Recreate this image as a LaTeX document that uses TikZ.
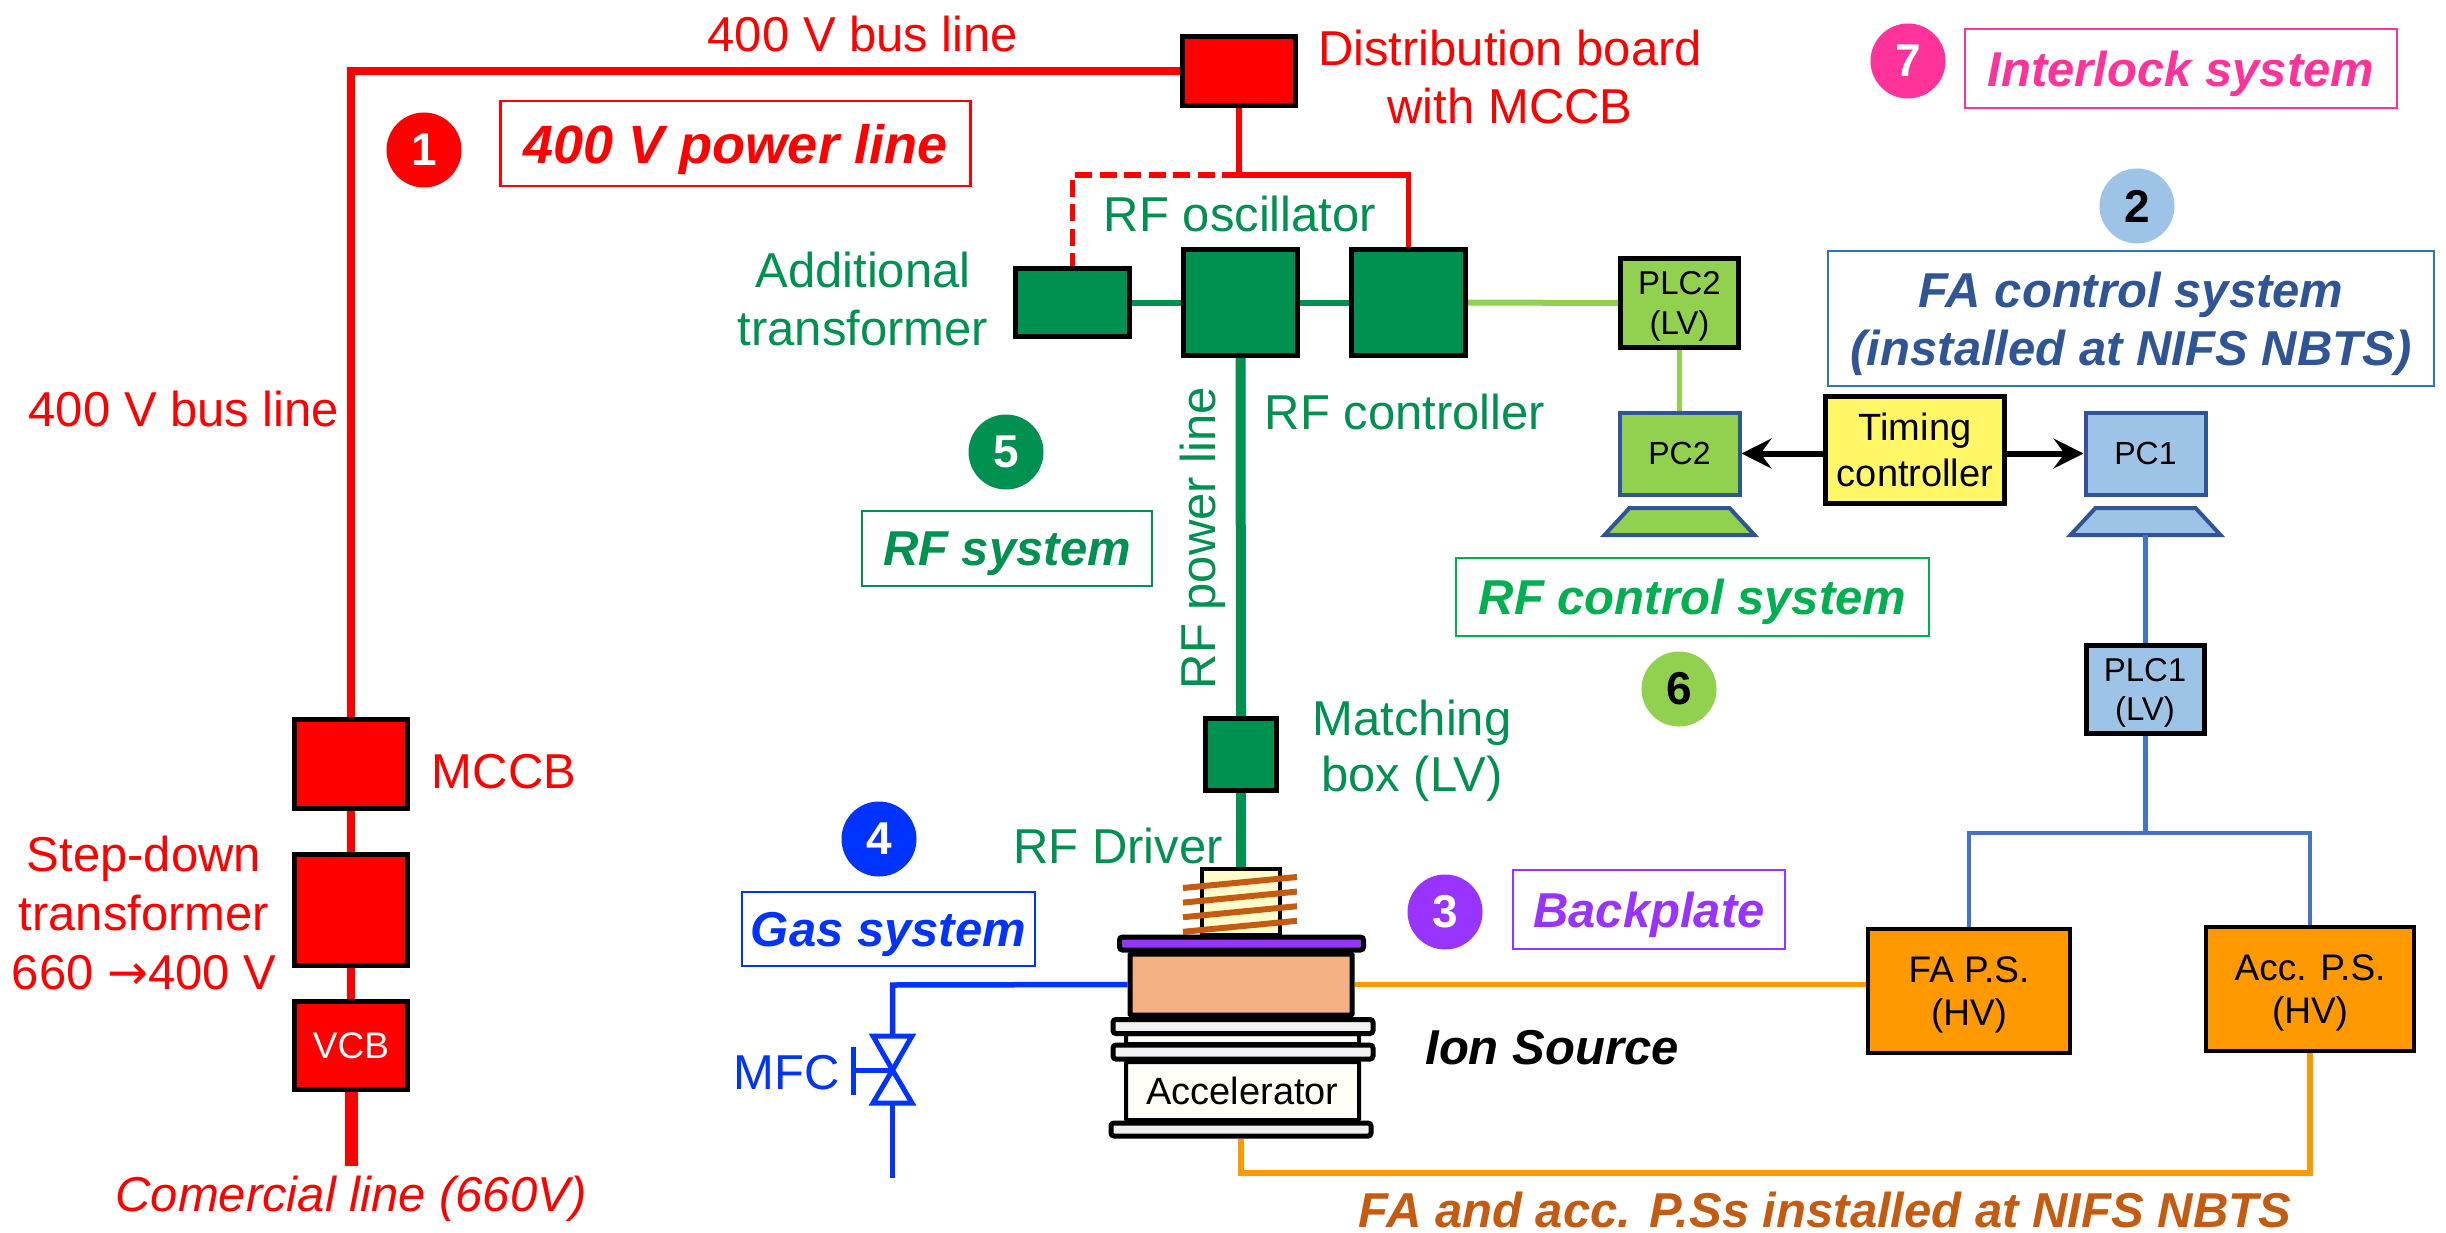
\documentclass[tikz,border=0pt]{standalone}
\usepackage{fontspec}
\setmainfont{Liberation Sans}
\newfontfamily\arrowfont{DejaVu Sans}
\usetikzlibrary{arrows.meta}
\newcommand{\nd}[1]{\raisebox{0pt}[\height][0pt]{#1}}
\definecolor{rfgreen}{HTML}{009050}
\definecolor{lgreen}{HTML}{92D050}
\definecolor{lblue}{HTML}{9DC3E6}
\definecolor{dblue}{HTML}{2F5597}
\definecolor{mblue}{HTML}{4472C4}
\definecolor{bblue}{HTML}{2E75B6}
\definecolor{gasblue}{HTML}{0033FF}
\definecolor{violet2}{HTML}{9933FF}
\definecolor{pink2}{HTML}{FF3399}
\definecolor{orange2}{HTML}{FF9900}
\definecolor{brown2}{HTML}{C55A11}
\definecolor{src}{HTML}{F4B183}
\definecolor{ctrlgreen}{HTML}{00B050}
\tikzset{
  fs/.style={font=\fontsize{#1}{1.2\dimexpr #1pt\relax}\selectfont},
  lab/.style={fs=49,align=center,inner sep=0pt},
  sys/.style={align=center,inner sep=0pt,font=\fontsize{#1}{1.14\dimexpr #1pt\relax}\selectfont\bfseries\itshape},
  blk/.style={draw=black,line width=5pt,inner sep=0pt,align=center},
  rbox/.style={blk,fill=red},
  gbox/.style={blk,fill=rfgreen},
  pcbox/.style={draw=dblue,line width=4pt,inner sep=0pt,fs=32,minimum width=120pt,minimum height=82pt},
  base/.style={draw=dblue,line width=4pt},
  sysbox/.style={line width=2.5pt,fill=white},
  num/.style={circle,minimum size=75pt,inner sep=0pt,font=\fontsize{46}{46}\selectfont\bfseries},
  part/.style={draw=black,line width=5pt,inner sep=0pt,rounded corners=1pt},
  flange/.style={part,fill=black!5,rounded corners=3pt},
}
\begin{document}
\begin{tikzpicture}[x=1pt,y=-1pt]
\useasboundingbox (0,0) rectangle (2446,1233);
% left chain
\node[rbox,minimum width=113pt,minimum height=89pt] (mccb) at (351,764) {};
\node[rbox,minimum width=113pt,minimum height=111pt] (stepdn) at (351,910) {};
\node[rbox,minimum width=113pt,minimum height=88pt,text=white,fs=37] (vcb) at (351,1045.5) {VCB};
\coordinate (comm) at (351,1166);
% distribution
\node[rbox,minimum width=113pt,minimum height=69pt] (dist) at (1239,71) {};
\node[gbox,minimum width=114pt,minimum height=68pt] (addt) at (1072.5,302.5) {};
\node[gbox,minimum width=114pt,minimum height=106pt] (osc) at (1240.5,302.5) {};
\node[gbox,minimum width=114pt,minimum height=106pt] (rctrl) at (1408.5,302.5) {};
\node[gbox,minimum width=71pt,minimum height=72pt] (match) at (1241,754.5) {};
\coordinate (jt) at (1239,175);
\node[blk,fill=lgreen,fs=33,minimum width=118pt,minimum height=88pt] (plc2) at (1679.5,303) {PLC2\\\nd{(LV)}};
\node[pcbox,fill=lgreen] (pc2) at (1679.5,453.5) {\nd{PC2}};
\draw[base,fill=lgreen] (1629.5,508) -- (1729.5,508) -- (1754.5,535) -- (1604.5,535) -- cycle;
\node[pcbox,fill=lblue] (pc1) at (2145.5,453.5) {\nd{PC1}};
\coordinate (base1) at (2145.5,535);
\draw[base,fill=lblue] (2095.5,508) -- (2195.5,508) -- (2220.5,535) -- (2070.5,535) -- cycle;
\node[blk,fill=yellow!60,fs=38,minimum width=179pt,minimum height=107pt] (timing) at (1915,450) {Timing\\\nd{controller}};
\node[blk,fill=lblue,fs=33,minimum width=118pt,minimum height=88pt] (plc1) at (2145,689.5) {PLC1\\\nd{(LV)}};
\coordinate (split) at (2145.5,833);
\node[blk,fill=orange2,fs=37,line width=4pt,minimum width=202pt,minimum height=124pt] (fa) at (1969,991) {FA P.S.\\[-1pt]\nd{(HV)}};
\node[blk,fill=orange2,fs=37,line width=4pt,minimum width=208pt,minimum height=124pt] (acc) at (2310,989) {Acc. P.S.\\[-1pt]\nd{(HV)}};
% ion source
\node[draw=black,line width=3.5pt,fill=yellow!20,inner sep=0pt,minimum width=78pt,minimum height=66pt] (drv) at (1241,902) {};
\foreach \yy in {0,14.6,29.2,43.8}
  \draw[brown2,line width=6pt] (1183,888+\yy) -- (1297,877+\yy);
\node[part,fill=violet2,rounded corners=3pt,minimum width=244pt,minimum height=13pt] (bplate) at (1241.5,943.5) {};
\node[part,fill=src,minimum width=222pt,minimum height=61pt] (srcbox) at (1241,984.5) {};
\node[part,draw=black,line width=4pt,fill=yellow!3,minimum width=233pt,minimum height=10pt] (gap) at (1242.5,1039) {};
\node[part,line width=4pt,fill=yellow!3,fs=38,minimum width=233pt,minimum height=58pt] (accel) at (1242.5,1091) {Accelerator};
\node[flange,minimum width=260pt,minimum height=14pt] (fl1) at (1243,1026.5) {};
\node[flange,minimum width=260pt,minimum height=14pt] (fl2) at (1243,1052) {};
\node[flange,minimum width=260pt,minimum height=13pt] (fl3) at (1241,1129.5) {};
\coordinate (bend) at (1241,1173);
% connectors
\draw[red,line width=8pt] (mccb.north) |- (dist.west);
\draw[red,line width=8pt] (mccb.south) -- (stepdn.north);
\draw[red,line width=8pt] (stepdn.south) -- (vcb.north);
\draw[red,line width=13pt] (vcb.south) -- (comm);
\draw[red,line width=5.5pt] (dist.south) -- (jt);
\draw[red,line width=5.5pt] (jt) -| (rctrl.north);
\draw[red,line width=5.5pt,dash pattern=on 17pt off 7.5pt] (jt) -| (addt.north);
\draw[rfgreen,line width=6pt] (addt.east) -- (osc.west);
\draw[rfgreen,line width=6pt] (osc.east) -- (rctrl.west);
\draw[rfgreen,line width=10pt] (osc.south) -- (match.north);
\draw[rfgreen,line width=10pt] (match.south) -- (drv.north);
\draw[lgreen,line width=6pt] (rctrl.east) -- (plc2.west);
\draw[lgreen,line width=5pt] (plc2.south) -- (pc2.north);
\draw[black,line width=6pt,-{Stealth[length=30pt,width=30pt,inset=11pt]}] (timing.west |- pc2.east) -- (pc2.east);
\draw[black,line width=6pt,-{Stealth[length=30pt,width=30pt,inset=11pt]}] (timing.east |- pc1.west) -- (pc1.west);
\draw[mblue,line width=4.5pt] (base1) -- (base1 |- plc1.north);
\draw[mblue,line width=4.5pt] (base1 |- plc1.south) -- (split);
\draw[mblue,line width=4.5pt] (split) -| (fa.north);
\draw[mblue,line width=4.5pt] (split) -| (acc.north);
\draw[orange2,line width=5.5pt] (srcbox.east) -- (fa.west |- srcbox.east);
\draw[orange2,line width=5.5pt] (fl3.south) -- (bend) -| (acc.south);
% gas line and valve
\coordinate (gc) at (892.5,985);
\coordinate (vt) at (892.5,1036);
\coordinate (vb) at (892.5,1103);
\coordinate (vend) at (892.5,1178);
\coordinate (vm) at (892.5,1070);
\coordinate (vh) at (853,1070);
\draw[gasblue,line width=5.5pt,line join=miter] (srcbox.west) -- (gc) -- (vt);
\draw[gasblue,line width=5pt] (vb) -- (vend);
\draw[gasblue,line width=5pt,fill=white,miter limit=10] (873,1036) -- (912,1036) -- (vm) -- cycle;
\draw[gasblue,line width=5pt,fill=white,miter limit=10] (873,1103) -- (912,1103) -- (vm) -- cycle;
\draw[gasblue,line width=5pt] (vh) -- (vm);
\draw[gasblue,line width=5pt] (853,1047) -- (853,1095);
% system boxes
\node[num,fill=red,text=white] (n1) at (424,150) {1};
\node[sysbox,draw=red,text=red,sys=54,minimum width=470pt,minimum height=85pt] (s1) at (735.5,143.5) {\nd{400 V power line}};
\node[num,fill=pink2,text=white] (n7) at (1908,61) {7};
\node[sysbox,draw=pink2,text=pink2,sys=49,minimum width=432pt,minimum height=79pt] (s7) at (2181,68.5) {\nd{Interlock system}};
\node[num,fill=lblue,text=black] (n2) at (2137,206) {2};
\node[sysbox,draw=bblue,text=dblue,sys=49,minimum width=606pt,minimum height=135pt] (s2) at (2131,318.5) {FA control system\\[2pt]\nd{(installed at NIFS NBTS)}};
\node[num,fill=rfgreen,text=white] (n5) at (1006,452) {5};
\node[sysbox,draw=rfgreen,text=rfgreen,sys=49,minimum width=290pt,minimum height=75pt] (s5) at (1007,548.5) {\nd{RF system}};
\node[sysbox,draw=ctrlgreen,text=ctrlgreen,sys=49,minimum width=473pt,minimum height=78pt] (s6) at (1692.5,597) {\nd{RF control system}};
\node[num,fill=lgreen,text=black] (n6) at (1679,689) {6};
\node[num,fill=gasblue,text=white] (n4) at (879,839) {4};
\node[sysbox,draw=gasblue,text=gasblue,sys=49,minimum width=293pt,minimum height=74pt] (s4) at (888.5,929) {\nd{Gas system}};
\node[num,fill=violet2,text=white] (n3) at (1445,912) {3};
\node[sysbox,draw=violet2,text=violet2,sys=49,minimum width=272pt,minimum height=79pt] (s3) at (1649,909.5) {\nd{Backplate}};
% labels
\node[lab,text=red] (l1) at (863,34) {400 V bus line};
\node[lab,text=red] (l2) at (184,409) {400 V bus line};
\node[lab,text=red] (l3) at (1510,77) {Distribution board\\with MCCB};
\node[lab,text=rfgreen] (l4) at (1240,214) {RF oscillator};
\node[lab,text=rfgreen] (l5) at (863,299) {Additional\\transformer};
\node[lab,text=rfgreen] (l6) at (1405,412) {RF controller};
\node[lab,text=rfgreen,rotate=90] (l7) at (1203,538) {RF power line};
\node[lab,text=rfgreen] (l8) at (1412,751) {Matching\\[-3pt]box (LV)};
\node[lab,text=rfgreen] (l9) at (1118,846) {RF Driver};
\node[lab,text=red] (l10) at (504,772) {MCCB};
\node[lab,text=red] (l11) at (144,913) {Step-down\\transformer\\660 {\arrowfont →}400 V};
\node[lab,text=gasblue] (l12) at (787,1073) {MFC};
\node[inner sep=0pt,text=red,font=\itshape\fontsize{49}{58}\selectfont] (l13) at (351,1199) {Comercial line (660V)};
\node[sys=49,text=black] (l14) at (1552,1048) {Ion Source};
\node[sys=49,text=brown2] (l15) at (1825,1210) {FA and acc. P.Ss installed at NIFS NBTS};
\end{tikzpicture}
\end{document}
